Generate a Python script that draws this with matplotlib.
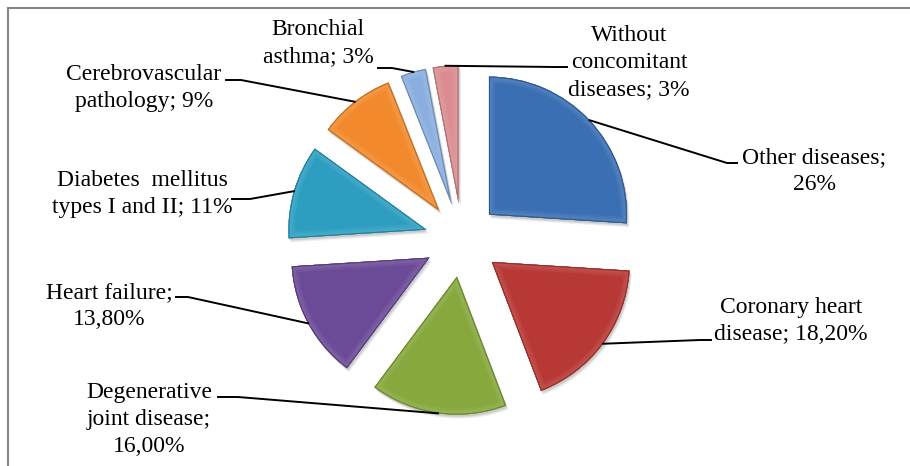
import numpy as np
import matplotlib.pyplot as plt
from matplotlib.patches import Wedge
from matplotlib.colors import to_rgb

plt.rcParams['font.family'] = ['Liberation Serif', 'DejaVu Serif']

W, H = 910, 466

labels = ["Other diseases;\n26%",
          "Coronary heart\ndisease; 18,20%",
          "Degenerative\njoint disease;\n16,00%",
          "Heart failure;\n13,80%",
          "Diabetes  mellitus\ntypes I and II; 11%",
          "Cerebrovascular\npathology; 9%",
          "Bronchial\nasthma; 3%",
          "Without\nconcomitant\ndiseases; 3%"]
values = [26, 18.2, 16.0, 13.8, 11, 9, 3, 3]
colors = ['#3a6fb3', '#b73835', '#86a83c', '#6b4b97',
          '#2e9ec0', '#f28a2d', '#8aaedf', '#da8c90']

# label anchor (centre x, last-line baseline y) and leader elbow, pixels from top-left
label_pos = [(814, 190), (791, 340), (149, 452), (109, 325),
             (142, 213), (144, 107), (318, 62), (629, 95)]
leaders = [[(737, 163), (727, 163)],
           [(711, 340), (700, 340)],
           [(218, 397), (238, 397)],
           [(176, 297), (188, 297)],
           [(232, 199), (250, 199)],
           [(226, 80), (241, 80)],
           [(378, 68), (392, 68)],
           [(567, 67), (555, 67)]]


def fy(y):
    return H - y


def shade(c, f):
    r = np.array(to_rgb(c))
    if f > 0:
        return tuple(r + (1 - r) * f)
    return tuple(r * (1 + f))


fig = plt.figure(figsize=(W / 100, H / 100), dpi=100)
ax = fig.add_axes([0, 0, 1, 1])

# explode is in data units here (pixels), radius 138
wedges, _ = ax.pie(values, explode=[37] * len(values), startangle=90,
                   counterclock=False, radius=138, center=(462, fy(240)),
                   colors=colors, wedgeprops=dict(linewidth=0, zorder=2))

for w, c in zip(wedges, colors):
    # soft drop shadow
    for k, a in [(4, 0.06), (3, 0.07), (2, 0.09)]:
        sh = Wedge((w.center[0] + k * 0.6, w.center[1] - k), w.r, w.theta1, w.theta2,
                   facecolor='black', alpha=a, linewidth=0, zorder=1)
        ax.add_patch(sh)
    # bevel: graded inner bands, then darker outline
    for lw, f in [(9, 0.05), (6, 0.09), (3.5, 0.12)]:
        band = Wedge(w.center, w.r, w.theta1, w.theta2, facecolor='none',
                     edgecolor=shade(c, f), linewidth=lw, zorder=3)
        ax.add_patch(band)
        band.set_clip_path(w)
    lo = Wedge(w.center, w.r, w.theta1, w.theta2, facecolor='none',
               edgecolor=shade(c, -0.22), linewidth=1.5, zorder=3)
    ax.add_patch(lo)
    lo.set_clip_path(w)

for w, lab, (tx, ty), pts in zip(wedges, labels, label_pos, leaders):
    ang = np.deg2rad((w.theta1 + w.theta2) / 2)
    ax_ = w.center[0] + w.r * np.cos(ang)
    ay_ = w.center[1] + w.r * np.sin(ang)
    xs = [p[0] for p in pts] + [ax_]
    ys = [fy(p[1]) for p in pts] + [ay_]
    ax.plot(xs, ys, color='black', lw=1.4, zorder=4)
    ax.text(tx, fy(ty), lab, ha='center', va='baseline', multialignment='center',
            fontsize=17, linespacing=1.38, zorder=5)

# chart area border (top and left edges)
ax.plot([8, W], [fy(8), fy(8)], color='#858585', lw=1.5, zorder=6)
ax.plot([8, 8], [fy(8), 0], color='#858585', lw=1.5, zorder=6)

ax.set_xlim(0, W)
ax.set_ylim(0, H)
ax.set_aspect('equal')
ax.axis('off')

fig.savefig('out.png', dpi=100)
